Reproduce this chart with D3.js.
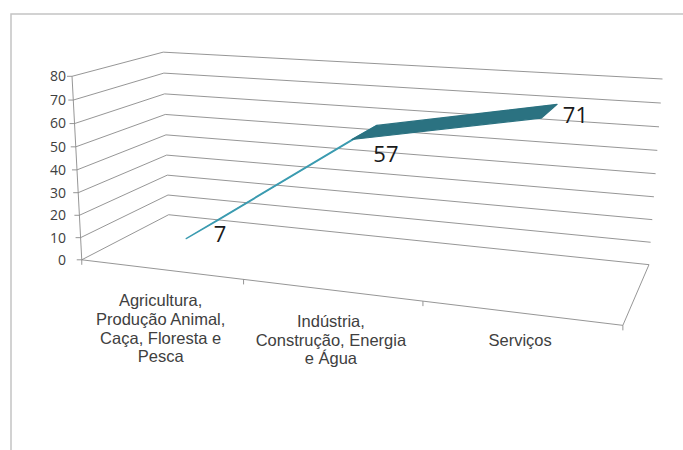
<!DOCTYPE html>
<html>
<head>
<meta charset="utf-8">
<script src="https://cdn.jsdelivr.net/npm/d3@7"></script>
<style>
  html, body { margin: 0; padding: 0; background: #ffffff; }
  svg { display: block; }
</style>
</head>
<body>
<svg id="chart" width="683" height="450"></svg>
<script>
// ---- data ----
const categoryLines = [
  ["Agricultura,", "Produção Animal,", "Caça, Floresta e", "Pesca"],
  ["Indústria,", "Construção, Energia", "e Água"],
  ["Serviços"]
];
const categories = categoryLines.map(lines => lines.join(" "));
const values = [7, 57, 71];
const yTicks = [0, 10, 20, 30, 40, 50, 60, 70, 80];

// ---- 3D box: known screen positions of box points ----
// [category 0..1, value 0..1, depth 0..1 (0 = front), screen x, screen y]
const boxAnchors = [
  [0, 0, 0, 83, 259], [0, 0.5, 0, 77, 168], [0, 1, 0, 72, 75],
  [0, 0, 1, 168, 214], [0, 0.5, 1, 166, 136], [0, 1, 1, 163, 53],
  [1, 0, 1, 649, 263], [1, 0.5, 1, 657, 173], [1, 1, 1, 662, 80],
  [1, 0, 0, 622, 325], [1 / 3, 0, 0, 243, 283], [2 / 3, 0, 0, 423, 302]
];

// Fit a perspective camera (3x4 matrix, last entry 1) to the anchors by least squares.
const CX = 340, CY = 200, S = 300;
function fitCamera(pts) {
  const rows = [], rhs = [];
  for (const [X, Y, Z, u0, v0] of pts) {
    const u = (u0 - CX) / S, v = (v0 - CY) / S;
    rows.push([X, Y, Z, 1, 0, 0, 0, 0, -u * X, -u * Y, -u * Z]); rhs.push(u);
    rows.push([0, 0, 0, 0, X, Y, Z, 1, -v * X, -v * Y, -v * Z]); rhs.push(v);
  }
  const n = 11;
  const M = Array.from({ length: n }, () => new Array(n + 1).fill(0));
  rows.forEach((r, k) => {
    for (let i = 0; i < n; i++) {
      for (let j = 0; j < n; j++) M[i][j] += r[i] * r[j];
      M[i][n] += r[i] * rhs[k];
    }
  });
  for (let c = 0; c < n; c++) {
    let piv = c;
    for (let r = c + 1; r < n; r++) if (Math.abs(M[r][c]) > Math.abs(M[piv][c])) piv = r;
    [M[c], M[piv]] = [M[piv], M[c]];
    for (let r = 0; r < n; r++) {
      if (r === c) continue;
      const f = M[r][c] / M[c][c];
      for (let j = c; j <= n; j++) M[r][j] -= f * M[c][j];
    }
  }
  return M.map((row, i) => row[n] / row[i]);
}
const P = fitCamera(boxAnchors);
function project(X, Y, Z) {
  const w = P[8] * X + P[9] * Y + P[10] * Z + 1;
  const u = (P[0] * X + P[1] * Y + P[2] * Z + P[3]) / w;
  const v = (P[4] * X + P[5] * Y + P[6] * Z + P[7]) / w;
  return [u * S + CX, v * S + CY];
}

// ---- scales ----
const x = d3.scaleBand().domain(categories).range([0, 1]).paddingInner(0).paddingOuter(0);
const xc = c => x(c) + x.bandwidth() / 2;
const y = d3.scaleLinear().domain([0, 80]).range([0, 1]);
const ribbonDepth = [0.3, 0.7];

const svg = d3.select("#chart");
const line = d3.line();

// outer frame
svg.append("path")
  .attr("d", "M11,450V14H683")
  .attr("fill", "none").attr("stroke", "#c4c4c4").attr("stroke-width", 1.5);

// wall gridlines (left wall + back wall)
svg.append("g").selectAll("path").data(yTicks).join("path")
  .attr("d", t => line([project(0, y(t), 0), project(0, y(t), 1), project(1, y(t), 1)]))
  .attr("fill", "none").attr("stroke", "#8a8a8a").attr("stroke-width", 0.9);

// floor: front and right edges
svg.append("path")
  .attr("d", line([project(0, 0, 0), project(1, 0, 0), project(1, 0, 1)]))
  .attr("fill", "none").attr("stroke", "#8a8a8a").attr("stroke-width", 0.9);

// category tick marks
svg.append("g").selectAll("path").data([0, 1 / 3, 2 / 3, 1]).join("path")
  .attr("d", t => { const [px, py] = project(t, 0, 0); return `M${px},${py}v5`; })
  .attr("stroke", "#8a8a8a").attr("stroke-width", 0.9);

// value axis
svg.append("path")
  .attr("d", line([project(0, 0, 0), project(0, 1, 0)]))
  .attr("fill", "none").attr("stroke", "#8a8a8a").attr("stroke-width", 0.9);
svg.append("g").selectAll("path").data(yTicks).join("path")
  .attr("d", t => { const [px, py] = project(0, y(t), 0); return `M${px},${py}h-5`; })
  .attr("stroke", "#8a8a8a").attr("stroke-width", 0.9);
svg.append("g").selectAll("text").data(yTicks).join("text")
  .attr("x", 66)
  .attr("y", t => project(0, y(t), 0)[1])
  .attr("dy", "0.35em")
  .attr("text-anchor", "end")
  .attr("font-family", "'Open Sans', sans-serif").attr("font-size", 14)
  .attr("fill", "#404040")
  .text(t => t);

// 3D line ribbon, one face per segment
const segs = d3.pairs(categories.map((c, i) => [xc(c), y(values[i])]));
const segColors = ["#3b9bb0", "#2b7281"];
svg.append("g").selectAll("path").data(segs).join("path")
  .attr("d", ([a, b]) => line([
    project(a[0], a[1], ribbonDepth[0]), project(b[0], b[1], ribbonDepth[0]),
    project(b[0], b[1], ribbonDepth[1]), project(a[0], a[1], ribbonDepth[1])
  ]) + "Z")
  .attr("fill", (d, i) => segColors[i])
  .attr("stroke", (d, i) => segColors[i])
  .attr("stroke-width", 1.2)
  .attr("stroke-linejoin", "round");

// value labels, to the right of the ribbon's front edge
const labelShift = [3, 23, 5];
svg.append("g").selectAll("text").data(values).join("text")
  .attr("x", (v, i) => project(xc(categories[i]), y(v), ribbonDepth[0])[0] + 34)
  .attr("y", (v, i) => project(xc(categories[i]), y(v), ribbonDepth[0])[1] + labelShift[i])
  .attr("text-anchor", "middle")
  .attr("font-family", "'Open Sans', sans-serif").attr("font-size", 22)
  .attr("fill", "#1a1a1a")
  .text(v => v);

// category labels under the floor
const lineH = 18.6;
const cat = svg.append("g").selectAll("text").data(categories).join("text")
  .attr("text-anchor", "middle")
  .attr("font-family", "'Liberation Sans', Arial, sans-serif").attr("font-size", 16.5)
  .attr("fill", "#404040")
  .attr("transform", c => {
    const [px, py] = project(xc(c), 0, 0);
    return `translate(${px},${Math.min(py + 37, 346)})`;
  });
cat.selectAll("tspan").data((c, i) => categoryLines[i]).join("tspan")
  .attr("x", 0)
  .attr("dy", (d, j) => j === 0 ? 0 : lineH)
  .text(d => d);
</script>
</body>
</html>
